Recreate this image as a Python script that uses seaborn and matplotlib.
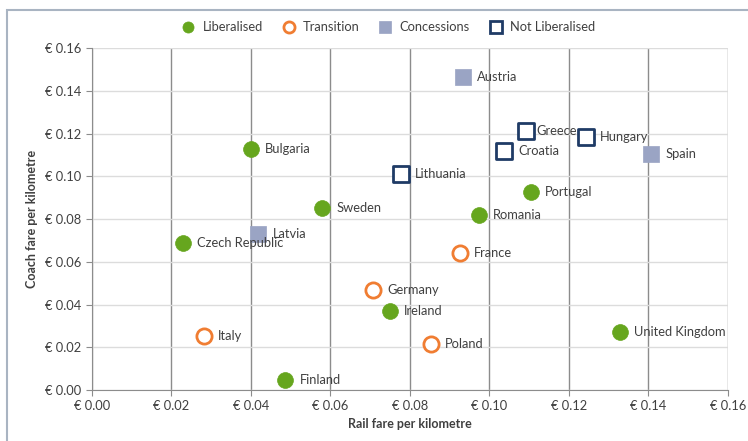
import pandas as pd
import seaborn as sns
import matplotlib.pyplot as plt
from matplotlib.lines import Line2D
from matplotlib.patches import Rectangle

countries = ['Bulgaria', 'Sweden', 'Czech Republic', 'Finland', 'Ireland', 'Romania', 'Portugal',
             'United Kingdom', 'Italy', 'Germany', 'Poland', 'France', 'Latvia', 'Austria', 'Spain',
             'Lithuania', 'Croatia', 'Greece', 'Hungary']
rail = [0.0400, 0.0579, 0.0229, 0.0486, 0.0750, 0.0974, 0.1104,
        0.1328, 0.0282, 0.0707, 0.0853, 0.0926, 0.0418, 0.0933, 0.1406,
        0.0777, 0.1036, 0.1092, 0.1243]
coach = [0.1127, 0.0851, 0.0688, 0.0047, 0.0370, 0.0819, 0.0926,
         0.0271, 0.0253, 0.0466, 0.0215, 0.0640, 0.0730, 0.1464, 0.1104,
         0.1010, 0.1118, 0.1212, 0.1183]
status = ['Liberalised'] * 8 + ['Transition'] * 4 + ['Concessions'] * 3 + ['Not Liberalised'] * 4

categories = ['Liberalised', 'Transition', 'Concessions', 'Not Liberalised']
colors = {'Liberalised': '#66a61e', 'Transition': '#f07d32',
          'Concessions': '#9aa4c4', 'Not Liberalised': '#1f3b66'}
markers = {'Liberalised': 'o', 'Transition': 'o', 'Concessions': 's', 'Not Liberalised': 's'}
hollow = {'Liberalised': False, 'Transition': True, 'Concessions': False, 'Not Liberalised': True}

df = pd.DataFrame({'country': countries, 'rail': rail, 'coach': coach, 'status': status})

sns.set_style('white')
plt.rcParams['font.family'] = ['Lato', 'DejaVu Sans']

fig = plt.figure(figsize=(7.48, 4.41), dpi=100)
ax = fig.add_axes([0.123, 0.1156, 0.85, 0.775])

# frame around the whole chart
fig.patches.append(Rectangle((7 / 748, -0.1), 1.2, (441 - 10) / 441 + 0.1, transform=fig.transFigure,
                             fill=False, edgecolor='#a9b4c2', linewidth=1.5))

for cat in categories:
    sub = df[df['status'] == cat]
    if hollow[cat]:
        sns.scatterplot(data=sub, x='rail', y='coach', ax=ax, marker=markers[cat], s=120,
                        facecolor='white', edgecolor=colors[cat], linewidth=2, zorder=3)
    else:
        sns.scatterplot(data=sub, x='rail', y='coach', ax=ax, marker=markers[cat], s=130,
                        color=colors[cat], edgecolor=colors[cat], linewidth=0.5, zorder=3)

for _, r in df.iterrows():
    dx = 0.0036 if r['country'] != 'Greece' else 0.0027
    ax.text(r['rail'] + dx, r['coach'], r['country'], fontsize=9.3, color='#404040',
            va='center', ha='left', zorder=4)

ax.set_xlim(0, 0.16)
ax.set_ylim(0, 0.16)
ticks = [i * 0.02 for i in range(9)]
ax.set_xticks(ticks)
ax.set_yticks(ticks)
ax.set_xticklabels(['€ %.2f' % t for t in ticks])
ax.set_yticklabels(['€ %.2f' % t for t in ticks])
ax.tick_params(axis='both', labelsize=9.3, labelcolor='#404040', length=4, width=0.8,
               color='#8c8c8c', direction='out', bottom=True, left=True)
ax.xaxis.grid(True, color='#8c8c8c', linewidth=1)
ax.yaxis.grid(True, color='#dcdcdc', linewidth=1)
ax.set_axisbelow(True)
for side in ['top', 'right']:
    ax.spines[side].set_visible(False)
for side in ['left', 'bottom']:
    ax.spines[side].set_color('#8c8c8c')
    ax.spines[side].set_linewidth(0.8)

ax.set_xlabel('Rail fare per kilometre', fontsize=9, fontweight='bold', color='#404040', labelpad=4)
ax.set_ylabel('Coach fare per kilometre', fontsize=9, fontweight='bold', color='#404040', labelpad=5)

handles = []
for cat in categories:
    face = 'white' if hollow[cat] else colors[cat]
    handles.append(Line2D([], [], linestyle='none', marker=markers[cat], markersize=8,
                          markerfacecolor=face, markeredgecolor=colors[cat],
                          markeredgewidth=2 if hollow[cat] else 0.5))
fig.legend(handles, categories, loc='center', bbox_to_anchor=(0.515, 0.938), ncol=4,
           frameon=False, fontsize=9.3, handletextpad=0.1, columnspacing=1.0,
           labelcolor='#404040')

fig.savefig('out.png', dpi=100)
